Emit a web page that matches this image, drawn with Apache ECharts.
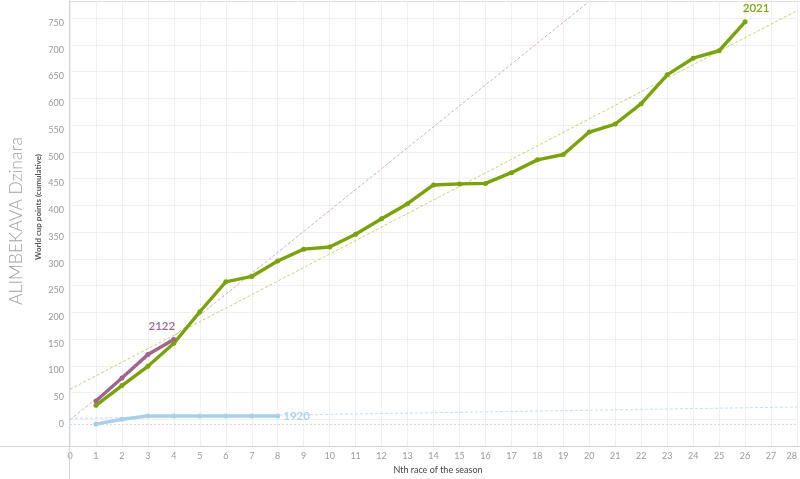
<!DOCTYPE html>
<html><head><meta charset="utf-8">
<script src="https://cdn.jsdelivr.net/npm/echarts@6/dist/echarts.min.js"></script>
<style>html,body{margin:0;padding:0;background:#fff}#c{width:800px;height:479px}</style>
</head><body><div id="c"></div>
<script>
// Data
const races2021 = [1,2,3,4,5,6,7,8,9,10,11,12,13,14,15,16,17,18,19,20,21,22,23,24,25,26];
const points2021 = [35,72,108,151,210,266,276,305,327,331,355,384,412,447,449,450,470,494,504,546,561,599,653,684,698,752];
const races2122 = [1,2,3,4];
const points2122 = [43,86,130,158];
const races1920 = [1,2,3,4,5,6,7,8];
const points1920 = [0,9,15,15,15,15,15,15];
// trend line endpoints
const trend2021X = [0,28];
const trend2021Y = [65,773];
const trend2122X = [0,20.5];
const trend2122Y = [8,810];
const trend1920X = [0,28];
const trend1920Y = [10.5,32];
const xTicks = [0,1,2,3,4,5,6,7,8,9,10,11,12,13,14,15,16,17,18,19,20,21,22,23,24,25,26,27,28];
const yTicks = [0,50,100,150,200,250,300,350,400,450,500,550,600,650,700,750];

const GREEN='#7aa20c', PURPLE='#a0648f', BLUE='#a8d0ea';
const zip=(a,b)=>a.map((v,i)=>[v,b[i]]);
const font='Lato, "Open Sans", sans-serif';

const chart = echarts.init(document.getElementById('c'), null, {renderer:'canvas'});
function mainSeries(name, xs, ys, color, lbl){
  return {name, type:'line', data: zip(xs,ys).map((p,i,arr)=> i===arr.length-1 ? {value:p, label:Object.assign({show:true, formatter:name, color, fontFamily:font, fontSize:11.5, fontWeight:600}, lbl)} : p),
    symbol:'circle', symbolSize:5, lineStyle:{color, width:3.4}, itemStyle:{color}, z:5, animation:false, clip:true};
}
function trend(xs, ys, color){
  return {type:'line', data: zip(xs,ys), symbol:'none', lineStyle:{color, width:1, type:[3,2]}, z:3, animation:false, silent:true, clip:true};
}
chart.setOption({
  animation:false,
  grid:{left:70, right:1, top:1, bottom:33, containLabel:false},
  xAxis:{type:'value', min:0, max:28, interval:1,
    axisLine:{show:false}, axisTick:{show:false},
    axisLabel:{color:'#999', fontSize:9, fontFamily:font, margin:6, alignMaxLabel:'right',
      customValues: xTicks},
    splitLine:{show:true, lineStyle:{color:'#f0f0f0', width:1}}},
  yAxis:{type:'value', min:-41, max:791, interval:50,
    axisLine:{show:false}, axisTick:{show:false},
    axisLabel:{color:'#999', fontSize:9, fontFamily:font, margin:6, customValues: yTicks},
    splitLine:{show:true, lineStyle:{color:'#f0f0f0', width:1}}},
  graphic:[
    {type:'line', shape:{x1:0,y1:446.5,x2:800,y2:446.5}, style:{stroke:'#d4d4d4', lineWidth:1}, z:10},
    {type:'line', shape:{x1:69.5,y1:0,x2:69.5,y2:479}, style:{stroke:'#d4d4d4', lineWidth:1}, z:10},
    {type:'line', shape:{x1:69.5,y1:1.5,x2:800,y2:1.5}, style:{stroke:'#e0e0e0', lineWidth:1}, z:10},
    {type:'text', x:438, y:470, style:{text:'Nth race of the season', font:'9px '+font, fill:'#444', textAlign:'center', textVerticalAlign:'middle'}},
    {type:'text', x:38, y:207, rotation:Math.PI/2, style:{text:'World cup points (cumulative)', font:'bold 8px '+font, fill:'#555', textAlign:'center', textVerticalAlign:'middle'}},
    {type:'text', x:16, y:221, rotation:Math.PI/2, style:{text:'ALIMBEKAVA Dzinara', font:'300 17.5px '+font, fill:'#a0a0a0', textAlign:'center', textVerticalAlign:'middle'}}
  ],
  series:[
    trend(trend2021X, trend2021Y, '#c0d47a'),
    trend(trend2122X, trend2122Y, '#cfaec6'),
    trend(trend1920X, trend1920Y, '#c2e0f3'),
    Object.assign(mainSeries('1920', races1920, points1920, BLUE, {position:'right', distance:3}),
      {markLine:{silent:true, symbol:'none', label:{show:false}, lineStyle:{color:'#d8d8d8', type:[2,2], width:1}, data:[{yAxis:0}]}}),
    mainSeries('2122', races2122, points2122, PURPLE, {position:'top', offset:[-12,-1], distance:4}),
    mainSeries('2021', races2021, points2021, GREEN, {position:'top', offset:[11,-1], distance:4})
  ]
});
</script></body></html>
